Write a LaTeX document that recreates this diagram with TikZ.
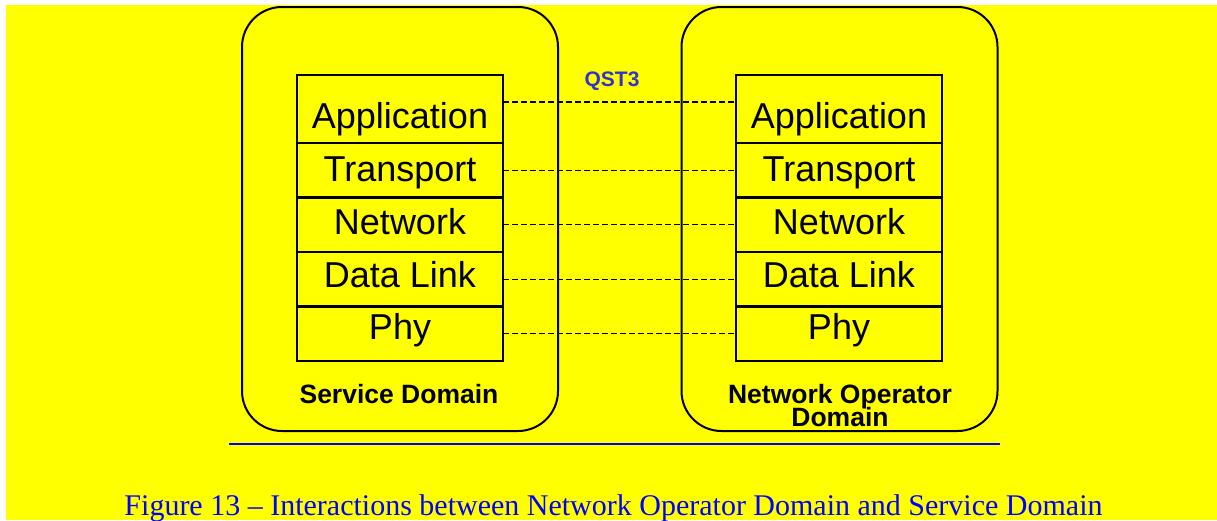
\documentclass[tikz,border=0pt]{standalone}
\usepackage{fontspec}
\setmainfont{Liberation Serif}
\setsansfont{Liberation Sans}
\usetikzlibrary{positioning}
\definecolor{bgyellow}{RGB}{255,255,0}
\definecolor{qstblue}{RGB}{51,51,204}
\definecolor{capblue}{RGB}{0,0,255}
\tikzset{
  domainbox/.style={draw,line width=2pt,rounded corners=40pt,minimum width=316pt,minimum height=424pt},
  layer/.style={draw,line width=2.5pt,outer sep=0pt,inner sep=0pt,minimum width=206pt,
    text height=37pt,text depth=17.5pt,font=\sffamily\fontsize{36}{36}\selectfont},
  toplayer/.style={layer,text height=53pt,text depth=15pt},
  peer/.style={line width=1.2pt,dash pattern=on 5.5pt off 3.5pt},
  dlabel/.style={font=\sffamily\bfseries\fontsize{26.5}{22}\selectfont,align=center,inner sep=0pt}
}
\begin{document}
\begin{tikzpicture}[x=1pt,y=-1pt]
\useasboundingbox (0,0) rectangle (1217,520);
\fill[bgyellow] (6,5) rectangle (1217,520);
\node[domainbox] (sdom) at (400,219) {};
\node[domainbox] (ndom) at (839.5,219) {};
% service domain stack
\node[toplayer,anchor=north] (sapp) at (400,75) {Application};
\node[layer,below=0pt of sapp,text height=38pt,text depth=16.5pt] (strn) {Transport};
\node[layer,below=0pt of strn] (snet) {Network};
\node[layer,below=0pt of snet,text height=35.5pt,text depth=19pt] (sdl) {Data Link};
\node[layer,below=0pt of sdl,text height=33pt,text depth=21.5pt] (sphy) {Phy};
% network operator domain stack
\node[toplayer,anchor=north] (napp) at (839,75) {Application};
\node[layer,below=0pt of napp,text height=38pt,text depth=16.5pt] (ntrn) {Transport};
\node[layer,below=0pt of ntrn] (nnet) {Network};
\node[layer,below=0pt of nnet,text height=35.5pt,text depth=19pt] (ndl) {Data Link};
\node[layer,below=0pt of ndl,text height=33pt,text depth=21.5pt] (nphy) {Phy};
\draw[peer] ([yshift=7pt]sapp.east)--([yshift=7pt]napp.west);
\draw[peer] (strn)--(ntrn);
\draw[peer] (snet)--(nnet);
\draw[peer] (sdl)--(ndl);
\draw[peer] (sphy)--(nphy);
\node[font=\sffamily\bfseries\fontsize{21}{21}\selectfont,text=qstblue,anchor=base] (qst) at (612,86) {QST3};
\node[dlabel,anchor=base] (slbl) at (399,403) {Service Domain};
\node[dlabel,anchor=base] (nlbl) at (840,426) {Network Operator\\[-3.6pt]Domain};
\draw[capblue,line width=2pt] (229,444)--(1000,444);
\node[text=capblue,font=\fontsize{30}{30}\selectfont,anchor=base] (cap) at (613.5,515)
  {Figure 13 -- Interactions between Network Operator Domain and Service Domain};
\end{tikzpicture}
\end{document}
